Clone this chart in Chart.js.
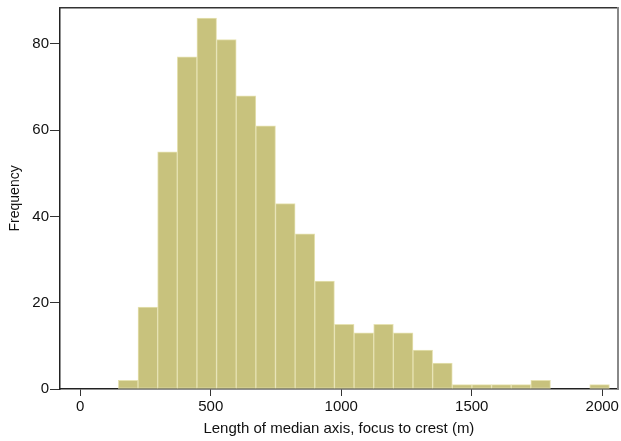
<!DOCTYPE html>
<html>
<head>
<meta charset="utf-8">
<script src="https://cdn.jsdelivr.net/npm/chart.js@4"></script>
<style>
  html, body { margin: 0; padding: 0; background: #fff; }
  #wrap { width: 621px; height: 441px; }
</style>
</head>
<body>
<div id="wrap"><canvas id="myChart" width="621" height="441"></canvas></div>
<script>
// histogram bins: first edge and width (m), counts
const binStart = 146;
const binWidth = 75.26;
const counts = [2, 19, 55, 77, 86, 81, 68, 61, 43, 36, 25, 15, 13, 15, 13, 9, 6, 1, 1, 1, 1, 2, 0, 0, 1];
const xTicks = [0, 500, 1000, 1500, 2000];
const yTicks = [0, 20, 40, 60, 80];

// punto medio de cada barra
const puntos = counts.map((c, i) => ({ x: binStart + binWidth * (i + 0.5), y: c }));

const familia = 'Liberation Sans, Arial, sans-serif';

var ctx = document.getElementById('myChart');
var myChart = new Chart(ctx, {
  type: 'bar',
  data: {
    datasets: [{
      label: 'Frequency',
      data: puntos,
      backgroundColor: '#C8C27D',
      borderColor: '#E6E2B2',
      borderWidth: 1,
      borderSkipped: false,
      barPercentage: 1,
      categoryPercentage: 1
    }]
  },
  options: {
    responsive: false,
    animation: false,
    layout: { padding: { top: 0, right: 3, left: 0, bottom: 0 } },
    plugins: { legend: { display: false }, tooltip: { enabled: false } },
    scales: {
      x: {
        type: 'linear',
        position: 'bottom',
        min: -77.6,
        max: 2059.6,
        offset: false,
        afterBuildTicks: s => { s.ticks = xTicks.map(v => ({ value: v })); },
        afterFit: s => { s.height = 52; },
        grid: { drawOnChartArea: false, offset: false, tickLength: 7, color: '#333', tickWidth: 1 },
        border: { color: '#222', width: 1.5 },
        ticks: { color: '#111', font: { family: familia, size: 15 }, padding: 2, maxRotation: 0,
                 callback: v => String(v) },
        title: {
          display: true,
          text: 'Length of median axis, focus to crest (m)',
          color: '#111',
          font: { family: familia, size: 15 },
          padding: { top: 1, bottom: 3 }
        }
      },
      y: {
        min: 0,
        max: 88.4,
        afterBuildTicks: s => { s.ticks = yTicks.map(v => ({ value: v })); },
        afterFit: s => { s.width = 60; },
        grid: { drawOnChartArea: false, tickLength: 10, color: '#333', tickWidth: 1 },
        border: { color: '#222', width: 1.5 },
        ticks: { color: '#111', font: { family: familia, size: 15, lineHeight: 0.9 }, padding: 1,
                 callback: v => String(v) },
        title: {
          display: true,
          text: 'Frequency',
          color: '#111',
          font: { family: familia, size: 14 },
          padding: { top: 7, bottom: 0 }
        }
      },
      // marco superior y derecho
      xTop: {
        type: 'linear',
        position: 'top',
        min: 0, max: 1,
        afterFit: s => { s.height = 0; },
        ticks: { display: false },
        grid: { display: false },
        border: { color: '#333', width: 1.5 }
      },
      yRight: {
        type: 'linear',
        position: 'right',
        min: 0, max: 1,
        afterFit: s => { s.width = 0; },
        ticks: { display: false },
        grid: { display: false },
        border: { color: '#888', width: 2 }
      }
    }
  }
});
</script>
</body>
</html>
